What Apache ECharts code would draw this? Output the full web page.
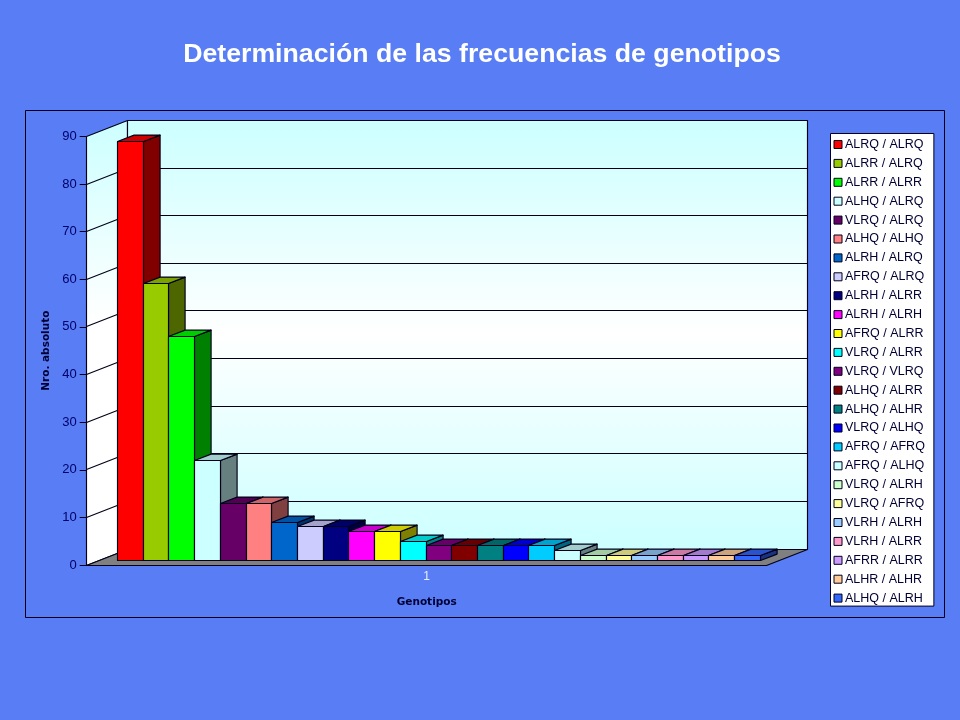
<!DOCTYPE html>
<html><head><meta charset="utf-8">
<style>html,body{margin:0;padding:0;background:#587DF5}#c{width:960px;height:720px}</style>
<script src="https://cdn.jsdelivr.net/npm/echarts@6/dist/echarts.min.js"></script>
</head><body><div id="c"></div>
<script>
const categories = ['ALRQ / ALRQ','ALRR / ALRQ','ALRR / ALRR','ALHQ / ALRQ','VLRQ / ALRQ','ALHQ / ALHQ','ALRH / ALRQ','AFRQ / ALRQ','ALRH / ALRR','ALRH / ALRH','AFRQ / ALRR','VLRQ / ALRR','VLRQ / VLRQ','ALHQ / ALRR','ALHQ / ALHR','VLRQ / ALHQ','AFRQ / AFRQ','AFRQ / ALHQ','VLRQ / ALRH','VLRQ / AFRQ','VLRH / ALRH','VLRH / ALRR','AFRR / ALRR','ALHR / ALHR','ALHQ / ALRH'];
const values = [88,58,47,21,12,12,8,7,7,6,6,4,3,3,3,3,3,2,1,1,1,1,1,1,1];
const colors = ['#FF0000','#99CC00','#00FF00','#CCFFFF','#660066','#FF8080','#0066CC','#CCCCFF','#000080','#FF00FF','#FFFF00','#00FFFF','#800080','#800000','#008080','#0000FF','#00CCFF','#CCFFFF','#CCFFCC','#FFFF99','#99CCFF','#FF99CC','#CC99FF','#FFCC99','#3366FF'];
const yTicks = [0,10,20,30,40,50,60,70,80,90];
const xLabels = ['1'];

const BG = '#587DF5', LINE = '#00001A';
const WALL = {dx:41, dy:-16};
const BAR = {dx:16.6, dy:-6.4, gap:18.5};
const chart = echarts.init(document.getElementById('c'));
function shade(hex,f){const n=parseInt(hex.slice(1),16);
  return 'rgb('+[(n>>16)&255,(n>>8)&255,n&255].map(v=>Math.round(v*f)).join(',')+')';}
const edge = {stroke:LINE, lineWidth:1.15, lineJoin:'round'};
const px = v => Math.floor(v)+0.5;

function renderWalls(params, api){
  const b0 = api.coord([0,0]), t0 = api.coord([0,90]);
  const band = api.size([1,0])[0];
  const xl = px(b0[0]-band/2), xr = px(b0[0]+band/2), yb=px(b0[1]), yt=px(t0[1]);
  const d = WALL;
  const kids = [
    {type:'polygon',shape:{points:[[xl,yb],[xl+d.dx,yb+d.dy],[xl+d.dx,yt+d.dy],[xl,yt]]},
     style:{fill:new echarts.graphic.LinearGradient(0,0,0,1,[{offset:0,color:'#CCFFFF'},{offset:.45,color:'#FFFFFF'},{offset:1,color:'#FFFFFF'}]),...edge}},
    {type:'polygon',shape:{points:[[xl+d.dx,yb+d.dy],[xr+d.dx,yb+d.dy],[xr+d.dx,yt+d.dy],[xl+d.dx,yt+d.dy]]},
     style:{fill:new echarts.graphic.LinearGradient(0,0,0,1,[{offset:0,color:'#CCFFFF'},{offset:.5,color:'#FFFFFF'},{offset:1,color:'#CCFFFF'}]),...edge}},
    {type:'polygon',shape:{points:[[xl,yb],[xr,yb],[xr+d.dx,yb+d.dy],[xl+d.dx,yb+d.dy]]},
     style:{fill:'#808080',...edge}}
  ];
  yTicks.slice(1,-1).forEach(v=>{
    const y = px(api.coord([0,v])[1]);
    kids.push({type:'polyline',shape:{points:[[xl,y],[xl+d.dx,y+d.dy],[xr+d.dx,y+d.dy]]},style:{fill:'none',...edge}});
  });
  return {type:'group',children:kids};
}
function renderBar(params, api){
  const i = params.seriesIndex-1;
  const c = colors[i];
  const p = api.coord([0,api.value(1)]), b = api.coord([0,0]);
  const band = api.size([1,0])[0];
  const w = (band-2*BAR.gap)/categories.length;
  const ox = (WALL.dx-BAR.dx)/2, oy = (WALL.dy-BAR.dy)/2;
  const start = p[0]-band/2+BAR.gap+ox;
  const x0 = px(start+i*w), x1 = px(start+(i+1)*w), yt = px(p[1]+oy), yb = px(b[1]+oy);
  const dx = BAR.dx, dy = BAR.dy;
  return {type:'group',children:[
    {type:'polygon',shape:{points:[[x1,yb],[x1+dx,yb+dy],[x1+dx,yt+dy],[x1,yt]]},style:{fill:shade(c,.5),...edge}},
    {type:'polygon',shape:{points:[[x0,yt],[x1,yt],[x1+dx,yt+dy],[x0+dx,yt+dy]]},style:{fill:shade(c,.8),...edge}},
    {type:'rect',shape:{x:x0,y:yt,width:x1-x0,height:yb-yt},style:{fill:c,...edge}}
  ]};
}
const series = [{type:'custom',name:'walls',coordinateSystem:'cartesian2d',clip:false,silent:true,z:1,data:[[0,0]],renderItem:renderWalls,encode:{x:0,y:1}}];
categories.forEach((n,i)=>series.push({type:'custom',name:n,coordinateSystem:'cartesian2d',clip:false,z:2,
  itemStyle:{color:colors[i]},data:[[0,values[i]]],renderItem:renderBar,encode:{x:0,y:1}}));

chart.setOption({
  animation:false,
  backgroundColor:BG,
  textStyle:{fontFamily:'"Liberation Sans", Arial, sans-serif'},
  title:{text:'Determinación de las frecuencias de genotipos',left:477,top:36.5,textAlign:'center',
    textStyle:{color:'#FFFFFF',fontSize:26.7,fontWeight:'bold',fontFamily:'"Liberation Sans", Arial, sans-serif'}},
  graphic:[{type:'rect',z:0,silent:true,shape:{x:25.5,y:110.5,width:919,height:507},style:{fill:'none',stroke:LINE,lineWidth:1}}],
  grid:{left:86.7,right:960-766.7,top:136.4,bottom:720-565,containLabel:false},
  xAxis:{type:'category',data:xLabels,boundaryGap:true,name:'Genotipos',nameLocation:'middle',nameGap:32,
    nameTextStyle:{fontFamily:'"DejaVu Sans"',fontWeight:'bold',fontSize:10.5,color:'#000033'},
    axisLine:{show:false},axisTick:{show:false},axisLabel:{color:'#E8EEFF',fontSize:12,margin:6}},
  yAxis:{type:'value',min:0,max:90,interval:10,name:'Nro. absoluto',nameLocation:'middle',nameGap:34,
    nameTextStyle:{fontFamily:'"DejaVu Sans"',fontWeight:'bold',fontSize:10.5,color:'#000033'},
    axisLine:{show:false},axisTick:{show:true,length:7,lineStyle:{color:LINE,width:1}},
    splitLine:{show:false},axisLabel:{color:'#000066',fontSize:13,margin:10}},
  legend:{orient:'vertical',left:830.5,top:133.5,data:categories,
    backgroundColor:'#FFFFFF',borderColor:LINE,borderWidth:1,padding:[4,9,1,3],
    icon:'rect',itemWidth:8,itemHeight:8,itemGap:4.9,selectedMode:false,
    itemStyle:{borderColor:LINE,borderWidth:1},
    textStyle:{color:'#000033',fontSize:12.5,padding:[0,0,0,-2],lineHeight:14}},
  series
});
</script></body></html>
